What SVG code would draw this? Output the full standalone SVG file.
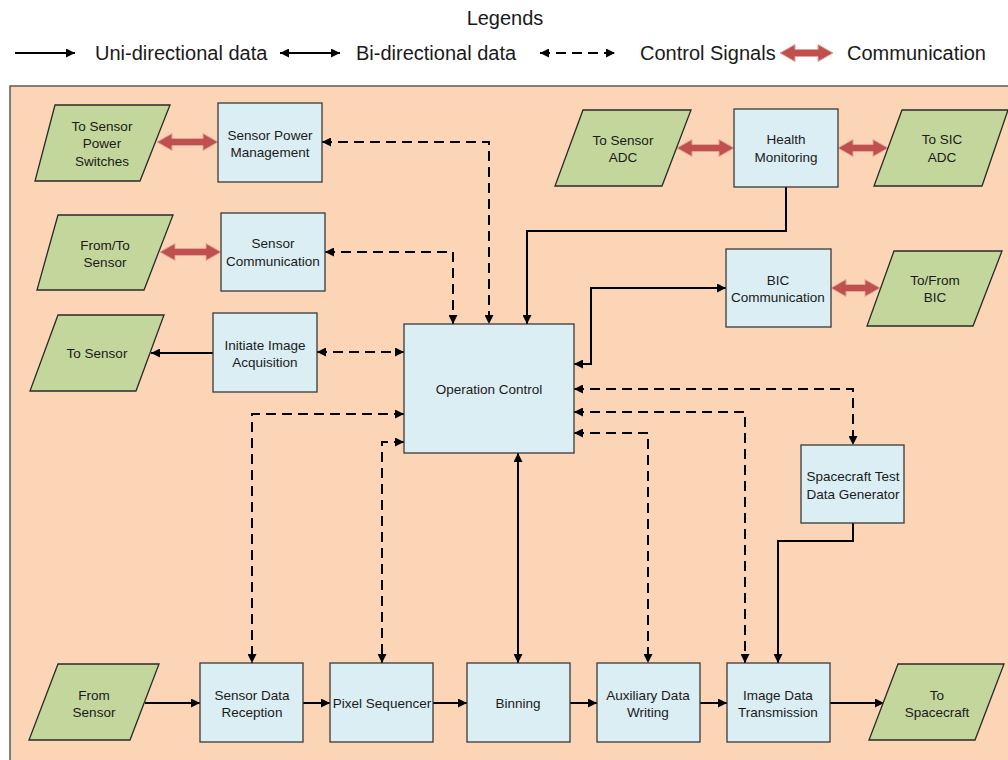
<svg xmlns="http://www.w3.org/2000/svg" width="1008" height="760" viewBox="0 0 1008 760">
  <style>
    text { font-family: "Liberation Sans", Arial, sans-serif; fill: #1a1a1a; }
    .lbl { font-size: 13.5px; text-anchor: middle; }
    .leg { font-size: 20px; }
    .box { fill: #DAEEF3; stroke: #3a3a3a; stroke-width: 1.3; }
    .io { fill: #C3D69B; stroke: #2a2a2a; stroke-width: 1.3; }
    .data { fill: none; stroke: #000; stroke-width: 2; }
    .ctrl { fill: none; stroke: #000; stroke-width: 2; stroke-dasharray: 10 6; }
    .comm { fill: #C0504D; stroke: #E3A49E; stroke-width: 1; }
  </style>
  <defs>
    <marker id="ah" viewBox="0 0 10 10" refX="10" refY="5" markerWidth="10" markerHeight="9" markerUnits="userSpaceOnUse" orient="auto-start-reverse">
      <path d="M0,0 L10,5 L0,10 z" fill="#000"/>
    </marker>
  </defs>

  <!-- legend -->
  <g id="legend">
    <text class="leg" x="505" y="25" text-anchor="middle">Legends</text>
    <path class="data" d="M15,53 H75" marker-end="url(#ah)"/>
    <text class="leg" x="95" y="60">Uni-directional data</text>
    <path class="data" d="M280,53 H340" marker-start="url(#ah)" marker-end="url(#ah)"/>
    <text class="leg" x="356" y="60">Bi-directional data</text>
    <path class="ctrl" d="M540,53 H615" marker-start="url(#ah)" marker-end="url(#ah)"/>
    <text class="leg" x="640" y="60">Control Signals</text>
    <polygon class="comm" points="780,53 795,44.5 795,49.5 818,49.5 818,44.5 833,53 818,61.5 818,56.5 795,56.5 795,61.5"/>
    <text class="leg" x="847" y="60">Communication</text>
  </g>

  <!-- system panel -->
  <rect id="panel" x="10" y="86" width="1006" height="684" fill="#FBD5B5" stroke="#595959" stroke-width="1.5"/>

  <!-- connectors -->
  <g id="connectors">
    <path class="ctrl" d="M322,142 H489 V324" marker-start="url(#ah)" marker-end="url(#ah)"/>
    <path class="ctrl" d="M325,252 H453 V324" marker-start="url(#ah)" marker-end="url(#ah)"/>
    <path class="ctrl" d="M317,352 H404" marker-start="url(#ah)" marker-end="url(#ah)"/>
    <path class="data" d="M213,353 H151" marker-end="url(#ah)"/>
    <path class="data" d="M786,187 V231 H527 V324" marker-end="url(#ah)"/>
    <path class="data" d="M574,364 H591 V288 H726" marker-start="url(#ah)" marker-end="url(#ah)"/>
    <path class="ctrl" d="M404,414 H252 V663" marker-start="url(#ah)" marker-end="url(#ah)"/>
    <path class="ctrl" d="M404,442 H382 V663" marker-start="url(#ah)" marker-end="url(#ah)"/>
    <path class="data" d="M518,453 V663" marker-start="url(#ah)" marker-end="url(#ah)"/>
    <path class="ctrl" d="M574,389 H853 V445" marker-start="url(#ah)" marker-end="url(#ah)"/>
    <path class="ctrl" d="M574,412 H745 V663" marker-start="url(#ah)" marker-end="url(#ah)"/>
    <path class="ctrl" d="M574,433 H648 V663" marker-start="url(#ah)" marker-end="url(#ah)"/>
    <path class="data" d="M853,523 V541 H778 V663" marker-end="url(#ah)"/>
    <path class="data" d="M145,703 H200" marker-end="url(#ah)"/>
    <path class="data" d="M303,703 H330" marker-end="url(#ah)"/>
    <path class="data" d="M433,703 H467" marker-end="url(#ah)"/>
    <path class="data" d="M570,703 H597" marker-end="url(#ah)"/>
    <path class="data" d="M700,703 H727" marker-end="url(#ah)"/>
    <path class="data" d="M830,703 H884" marker-end="url(#ah)"/>
    <!-- communication links -->
    <polygon class="comm" points="157,142 172,133.5 172,138.5 203,138.5 203,133.5 218,142 203,150.5 203,145.5 172,145.5 172,150.5"/>
    <polygon class="comm" points="160,252 175,243.5 175,248.5 206,248.5 206,243.5 221,252 206,260.5 206,255.5 175,255.5 175,260.5"/>
    <polygon class="comm" points="677,148 692,139.5 692,144.5 719,144.5 719,139.5 734,148 719,156.5 719,151.5 692,151.5 692,156.5"/>
    <polygon class="comm" points="838,148 853,139.5 853,144.5 873,144.5 873,139.5 888,148 873,156.5 873,151.5 853,151.5 853,156.5"/>
    <polygon class="comm" points="831,288 846,279.5 846,284.5 865,284.5 865,279.5 880,288 865,296.5 865,291.5 846,291.5 846,296.5"/>
  </g>

  <!-- left column -->
  <g id="to-sensor-power-switches">
    <polygon class="io" points="55,105 170,105 140,181 35,181"/>
    <text class="lbl" x="102" y="131">To Sensor</text>
    <text class="lbl" x="102" y="148">Power</text>
    <text class="lbl" x="102" y="166">Switches</text>
  </g>
  <g id="sensor-power-management">
    <rect class="box" x="218" y="103" width="104" height="79"/>
    <text class="lbl" x="270" y="140">Sensor Power</text>
    <text class="lbl" x="270" y="157">Management</text>
  </g>
  <g id="from-to-sensor">
    <polygon class="io" points="58,215 173,215 144,290 37,290"/>
    <text class="lbl" x="105" y="250">From/To</text>
    <text class="lbl" x="105" y="267">Sensor</text>
  </g>
  <g id="sensor-communication">
    <rect class="box" x="221" y="213" width="104" height="78"/>
    <text class="lbl" x="273" y="248">Sensor</text>
    <text class="lbl" x="273" y="266">Communication</text>
  </g>
  <g id="to-sensor">
    <polygon class="io" points="58,315 164,315 136,391 30,391"/>
    <text class="lbl" x="97" y="358">To Sensor</text>
  </g>
  <g id="initiate-image-acquisition">
    <rect class="box" x="213" y="313" width="104" height="79"/>
    <text class="lbl" x="265" y="350">Initiate Image</text>
    <text class="lbl" x="265" y="367">Acquisition</text>
  </g>

  <!-- upper right -->
  <g id="to-sensor-adc">
    <polygon class="io" points="583,110 691,110 662,186 555,186"/>
    <text class="lbl" x="623" y="145">To Sensor</text>
    <text class="lbl" x="623" y="162">ADC</text>
  </g>
  <g id="health-monitoring">
    <rect class="box" x="734" y="109" width="104" height="78"/>
    <text class="lbl" x="786" y="144">Health</text>
    <text class="lbl" x="786" y="162">Monitoring</text>
  </g>
  <g id="to-sic-adc">
    <polygon class="io" points="902,110 1008,110 982,186 874,186"/>
    <text class="lbl" x="942" y="144">To SIC</text>
    <text class="lbl" x="942" y="162">ADC</text>
  </g>
  <g id="bic-communication">
    <rect class="box" x="726" y="249" width="105" height="78"/>
    <text class="lbl" x="778" y="285">BIC</text>
    <text class="lbl" x="778" y="302">Communication</text>
  </g>
  <g id="to-from-bic">
    <polygon class="io" points="894,251 1002,251 973,326 867,326"/>
    <text class="lbl" x="935" y="285">To/From</text>
    <text class="lbl" x="935" y="302">BIC</text>
  </g>

  <!-- centre -->
  <g id="operation-control">
    <rect class="box" x="404" y="324" width="170" height="129"/>
    <text class="lbl" x="489" y="394">Operation Control</text>
  </g>
  <g id="spacecraft-test-data-generator">
    <rect class="box" x="801" y="445" width="103" height="78"/>
    <text class="lbl" x="853" y="481">Spacecraft Test</text>
    <text class="lbl" x="853" y="499">Data Generator</text>
  </g>

  <!-- data pipeline -->
  <g id="from-sensor">
    <polygon class="io" points="58,664 159,664 130,740 29,740"/>
    <text class="lbl" x="94" y="700">From</text>
    <text class="lbl" x="94" y="717">Sensor</text>
  </g>
  <g id="sensor-data-reception">
    <rect class="box" x="200" y="663" width="103" height="79"/>
    <text class="lbl" x="252" y="700">Sensor Data</text>
    <text class="lbl" x="252" y="717">Reception</text>
  </g>
  <g id="pixel-sequencer">
    <rect class="box" x="330" y="663" width="103" height="79"/>
    <text class="lbl" x="382" y="708">Pixel Sequencer</text>
  </g>
  <g id="binning">
    <rect class="box" x="467" y="663" width="103" height="79"/>
    <text class="lbl" x="518" y="708">Binning</text>
  </g>
  <g id="auxiliary-data-writing">
    <rect class="box" x="597" y="663" width="103" height="79"/>
    <text class="lbl" x="648" y="700">Auxiliary Data</text>
    <text class="lbl" x="648" y="717">Writing</text>
  </g>
  <g id="image-data-transmission">
    <rect class="box" x="727" y="663" width="103" height="79"/>
    <text class="lbl" x="778" y="700">Image Data</text>
    <text class="lbl" x="778" y="717">Transmission</text>
  </g>
  <g id="to-spacecraft">
    <polygon class="io" points="898,664 1004,664 975,740 869,740"/>
    <text class="lbl" x="937" y="700">To</text>
    <text class="lbl" x="937" y="717">Spacecraft</text>
  </g>
</svg>
